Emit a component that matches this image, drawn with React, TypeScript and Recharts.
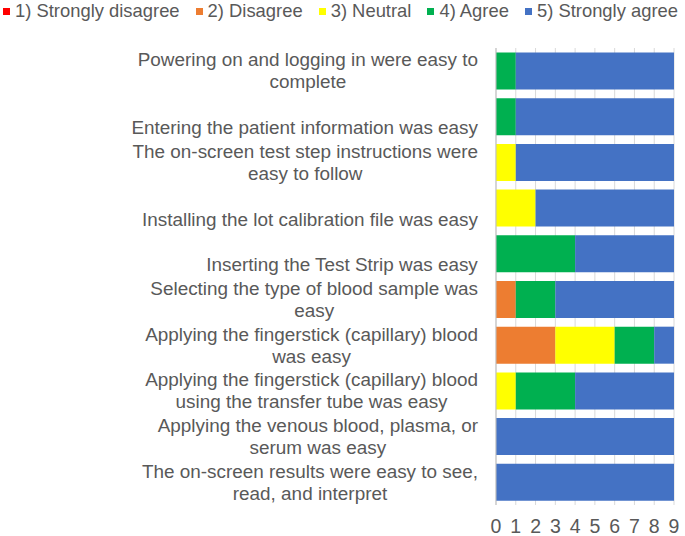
import React from "react";
import { BarChart, Bar, XAxis, YAxis, CartesianGrid, Legend } from "recharts";

const categories = [
  "Powering on and logging in were easy to\ncomplete",
  "\nEntering the patient information was easy",
  "The on-screen test step instructions were\neasy to follow",
  "\nInstalling the lot calibration file was easy",
  "\nInserting the Test Strip was easy",
  "Selecting the type of blood sample was\neasy",
  "Applying the fingerstick (capillary) blood\nwas easy",
  "Applying the fingerstick (capillary) blood\nusing the transfer tube was easy",
  "Applying the venous blood, plasma, or\nserum was easy",
  "The on-screen results were easy to see,\nread, and interpret",
];

const stronglyDisagree = [0, 0, 0, 0, 0, 0, 0, 0, 0, 0];
const disagree = [0, 0, 0, 0, 0, 1, 3, 0, 0, 0];
const neutral = [0, 0, 1, 2, 0, 0, 3, 1, 0, 0];
const agree = [1, 1, 0, 0, 4, 2, 2, 3, 0, 0];
const stronglyAgree = [8, 8, 8, 7, 5, 6, 1, 5, 9, 9];

const xTicks = [0, 1, 2, 3, 4, 5, 6, 7, 8, 9];

const seriesNames = [
  "1) Strongly disagree",
  "2) Disagree",
  "3) Neutral",
  "4) Agree",
  "5) Strongly agree",
];
const seriesKeys = ["sd", "d", "n", "a", "sa"];
const seriesColors = ["#FF0000", "#ED7D31", "#FFFF00", "#00B050", "#4472C4"];

const data = categories.map((c, i) => ({
  name: c,
  sd: stronglyDisagree[i],
  d: disagree[i],
  n: neutral[i],
  a: agree[i],
  sa: stronglyAgree[i],
}));

const FONT = "'Liberation Sans', Arial, sans-serif";
const TEXT_COLOR = "#595959";
const FS = 18.9;
const LEGEND_FS = 18.4;
const TICK_FS = 19.5;

let ctx: CanvasRenderingContext2D | null = null;
function measure(t: string) {
  if (!ctx) {
    const c = document.createElement("canvas");
    ctx = c.getContext("2d");
  }
  if (!ctx) return t.length * FS * 0.5;
  ctx.font = `${FS}px 'Liberation Sans', Arial, sans-serif`;
  return ctx.measureText(t).width;
}

const YTick = (props: any) => {
  const { x, y, payload } = props;
  const lines = String(payload.value).split("\n");
  const maxW = Math.max(...lines.map((l) => measure(l)));
  const right = x - 2;
  const cx = right - maxW / 2;
  const lh = 22;
  const startY = y - ((lines.length - 1) * lh) / 2;
  return (
    <g>
      {lines.map((l, i) => (
        <text
          key={i}
          x={cx}
          y={startY + i * lh}
          dy="0.35em"
          textAnchor="middle"
          fill={TEXT_COLOR}
          fontSize={FS}
          fontFamily={FONT}
        >
          {l}
        </text>
      ))}
    </g>
  );
};

const LegendContent = () => (
  <div
    style={{
      display: "flex",
      height: 26,
      alignItems: "center",
      fontFamily: FONT,
      fontSize: LEGEND_FS,
      color: TEXT_COLOR,
      whiteSpace: "nowrap",
      marginTop: -2,
    }}
  >
    {seriesNames.map((n, i) => (
      <div
        key={n}
        style={{ display: "flex", alignItems: "center", marginRight: i < 4 ? 16 : 0 }}
      >
        <span
          style={{
            display: "inline-block",
            width: 7,
            height: 7,
            background: seriesColors[i],
            marginLeft: i === 0 ? 3 : 0,
            marginRight: 5,
          }}
        />
        <span>{n}</span>
      </div>
    ))}
  </div>
);

export default function App() {
  return (
    <div style={{ position: "absolute", left: 0, top: 0, background: "#fff" }}>
      <BarChart
        width={685}
        height={536}
        data={data}
        layout="vertical"
        barCategoryGap="9.8%"
        margin={{ top: 24, right: 11, bottom: 0, left: 0 }}
      >
        <CartesianGrid horizontal={false} vertical={true} stroke="#D9D9D9" />
        <XAxis
          type="number"
          domain={[0, 9]}
          ticks={xTicks}
          interval={0}
          axisLine={false}
          tickLine={false}
          tickMargin={8}
          height={31}
          tick={{ fill: TEXT_COLOR, fontSize: TICK_FS, fontFamily: FONT }}
        />
        <YAxis
          type="category"
          dataKey="name"
          width={496}
          interval={0}
          tickLine={false}
          axisLine={{ stroke: "#BFBFBF" }}
          tickMargin={10}
          tick={<YTick />}
        />
        <Legend
          verticalAlign="top"
          align="left"
          content={<LegendContent />}
          wrapperStyle={{ left: 0, top: 0 }}
        />
        {seriesKeys.map((k, i) => (
          <Bar
            key={k}
            dataKey={k}
            name={seriesNames[i]}
            stackId="s"
            fill={seriesColors[i]}
            isAnimationActive={false}
          />
        ))}
      </BarChart>
    </div>
  );
}
